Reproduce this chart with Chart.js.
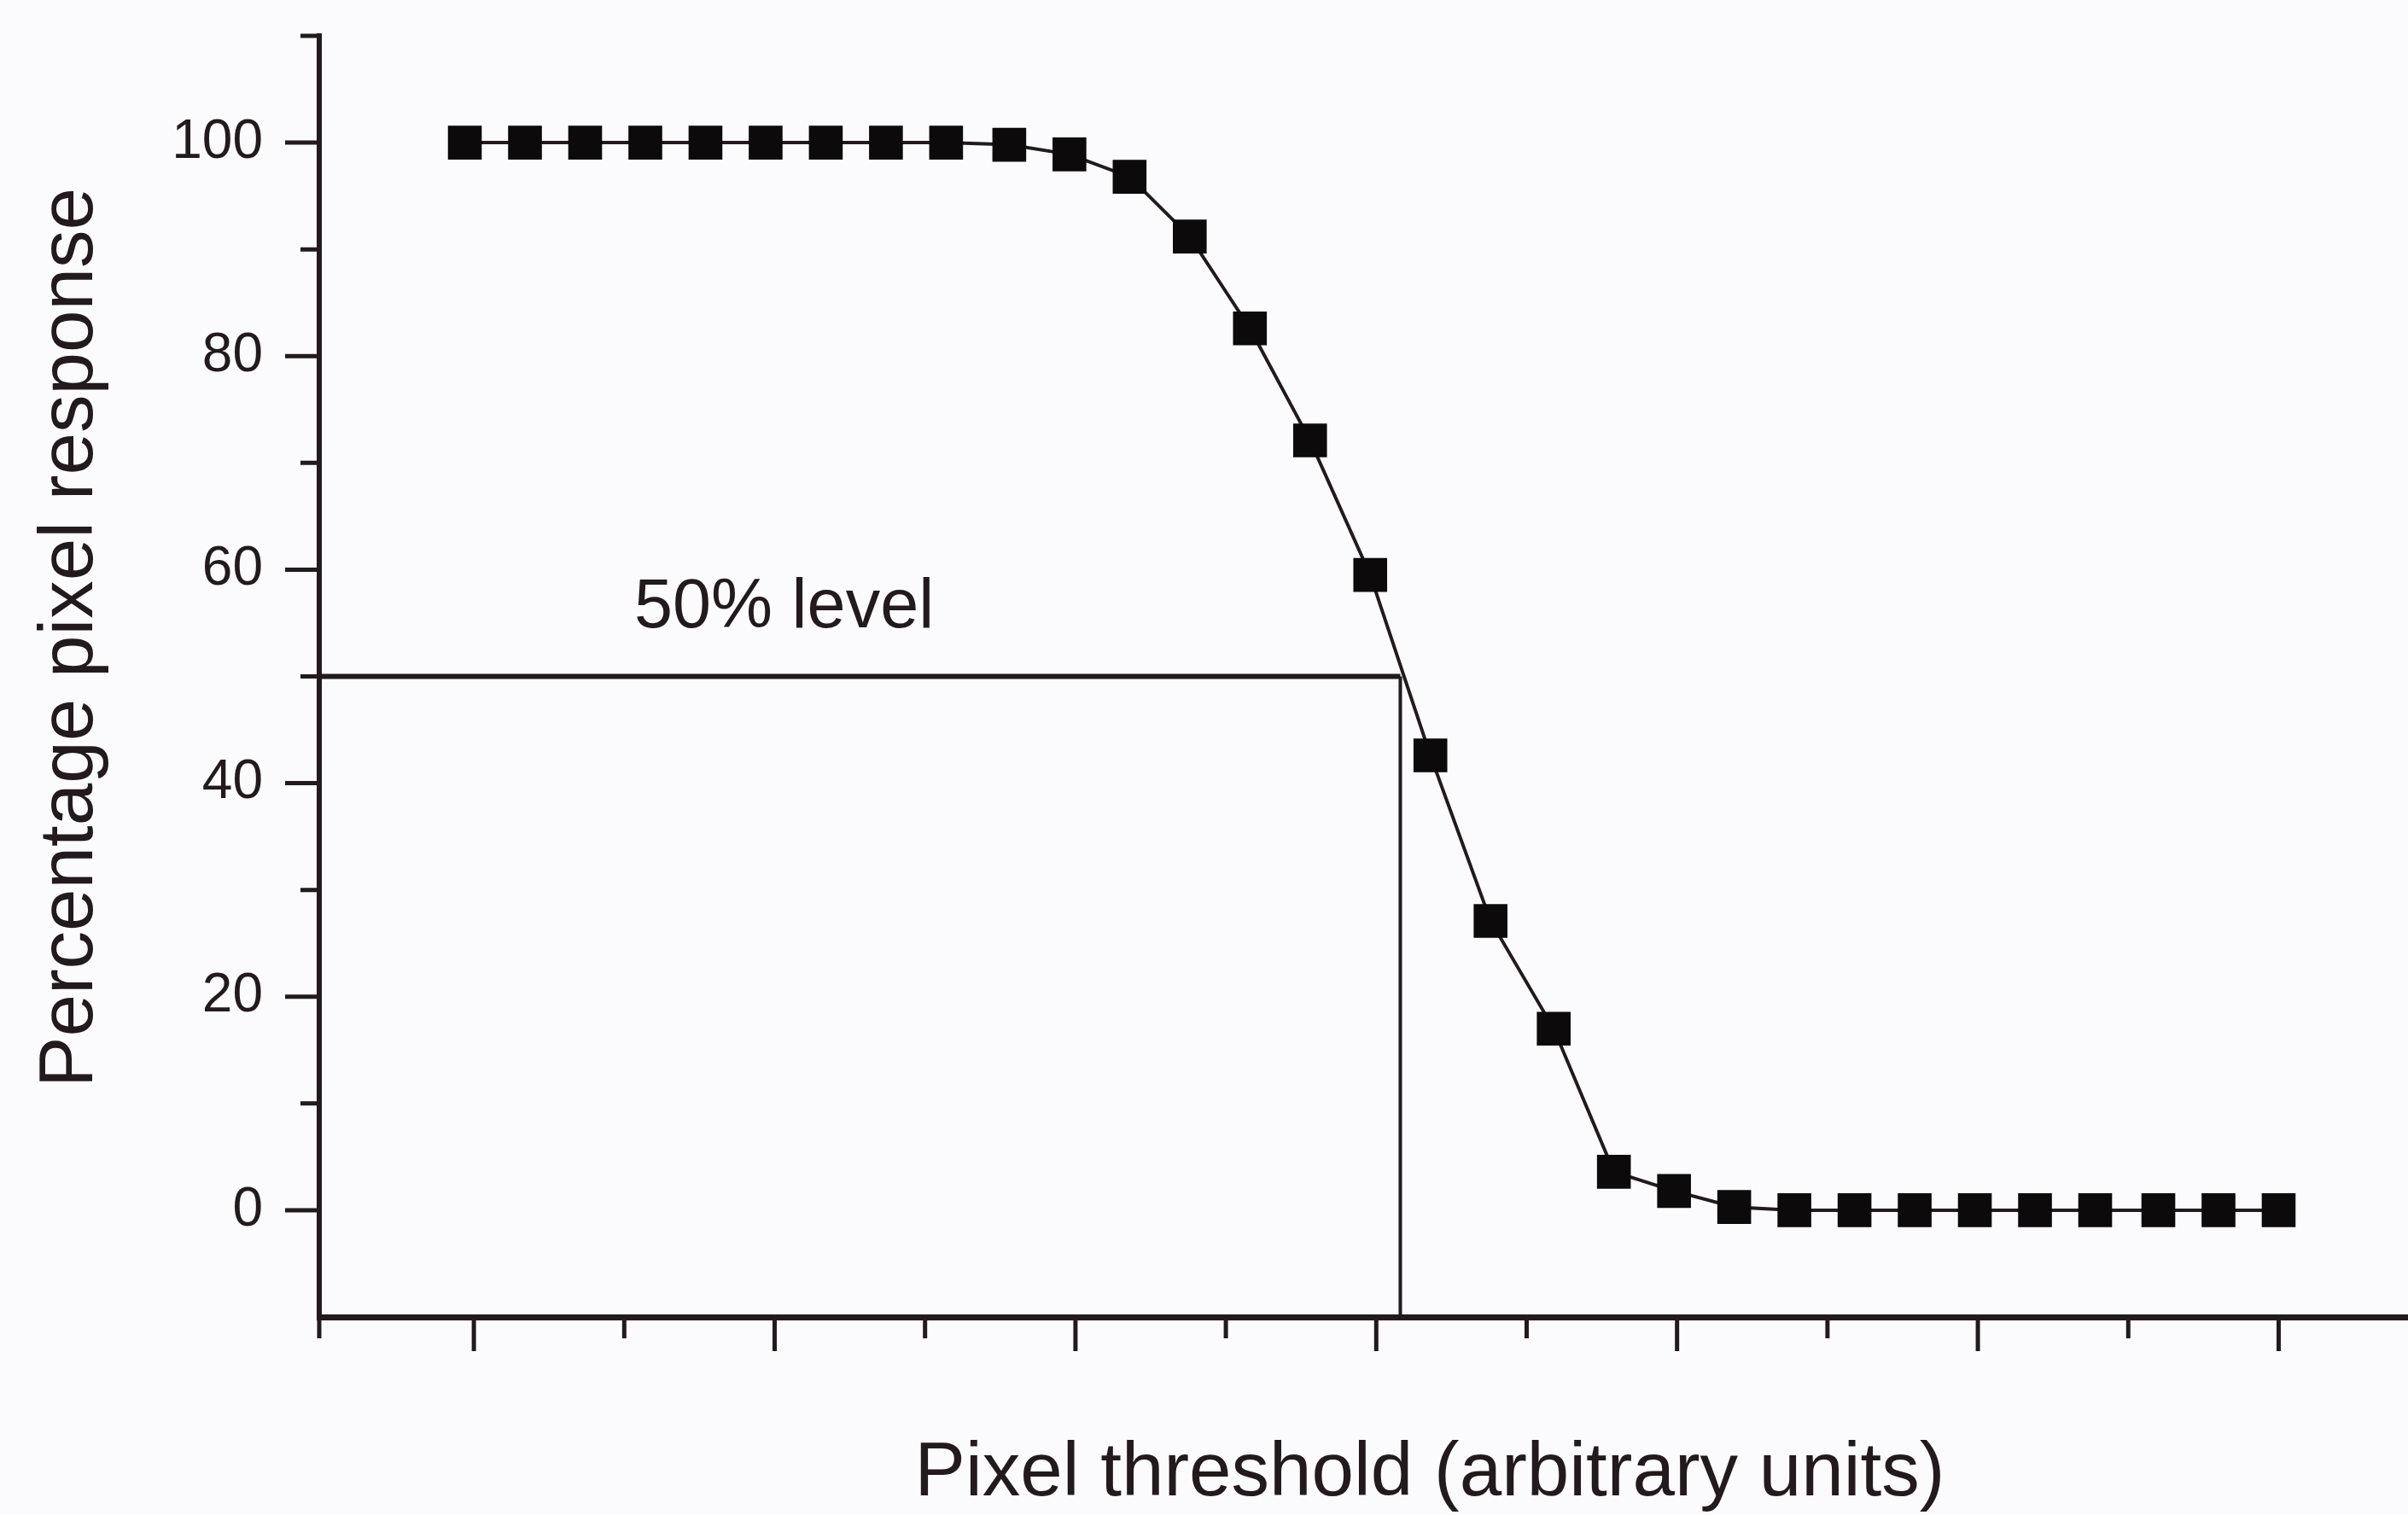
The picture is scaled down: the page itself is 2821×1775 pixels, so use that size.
<!DOCTYPE html>
<html>
<head>
<meta charset="utf-8">
<title>Pixel response vs threshold</title>
<script src="https://cdn.jsdelivr.net/npm/chart.js@4.4.1/dist/chart.umd.min.js"></script>
<style>
  html, body { margin: 0; padding: 0; background: #fbfbfd; }
  #wrap { width: 2821px; height: 1775px; }
</style>
</head>
<body>
<div id="wrap"><canvas id="c" width="2821" height="1775"></canvas></div>
<script>
// threshold (arbitrary units) and pixel response (%) for each setting
const thresholds = [-0.3, 1.7, 3.7, 5.7, 7.7, 9.7, 11.7, 13.7, 15.7, 17.8,
                    19.8, 21.8, 23.8, 25.8, 27.8, 29.8, 31.8, 33.8, 35.9, 37.9,
                    39.9, 41.9, 43.9, 45.9, 47.9, 49.9, 51.9, 53.9, 56.0, 58.0, 60.0];
const response   = [100, 100, 100, 100, 100, 100, 100, 100, 100, 99.8,
                    98.9, 96.8, 91.2, 82.6, 72.1, 59.5, 42.6, 27.1, 17.0, 3.6,
                    1.8, 0.3, 0, 0, 0, 0, 0, 0, 0, 0, 0];

// 50% marker: response level and the threshold where the curve crosses it
const HALF_LEVEL = 50;
const HALF_X = 30.8;

// axis ranges and tick marks
const X_MIN = -5.14, X_MAX = 64.3;
const Y_MIN = -10, Y_MAX = 110;
const yLabelValues = [0, 20, 40, 60, 80, 100];
const yTickMarks = [0, 10, 20, 30, 40, 50, 60, 70, 80, 90, 100, 110];
const xTickMarks = [X_MIN, 0, 5, 10, 15, 20, 25, 30, 35, 40, 45, 50, 55, 60];

const INK = '#221a1c';
const FONT = '"Liberation Sans", Arial, Helvetica, sans-serif';

// tick marks of two lengths plus axis titles and the level note
const decorations = {
  id: 'decorations',
  afterDraw(chart) {
    const { ctx, chartArea, scales: { x, y } } = chart;
    ctx.save();
    ctx.strokeStyle = INK;
    ctx.lineWidth = 5;
    ctx.beginPath();
    yTickMarks.forEach(v => {
      const py = y.getPixelForValue(v);
      const len = yLabelValues.includes(v) ? 40 : 22;
      ctx.moveTo(chartArea.left - len, py);
      ctx.lineTo(chartArea.left, py);
    });
    xTickMarks.forEach(v => {
      const px = x.getPixelForValue(v);
      const len = v % 10 === 0 ? 40 : 25;
      ctx.moveTo(px, chartArea.bottom);
      ctx.lineTo(px, chartArea.bottom + len);
    });
    ctx.stroke();

    ctx.fillStyle = INK;
    ctx.textAlign = 'center';
    ctx.textBaseline = 'middle';
    ctx.font = '89px ' + FONT;
    ctx.fillText('Pixel threshold (arbitrary units)', 1675, 1727);

    ctx.save();
    ctx.translate(83, 747);
    ctx.rotate(-Math.PI / 2);
    ctx.fillText('Percentage pixel response', 0, 0);
    ctx.restore();

    ctx.textAlign = 'left';
    ctx.textBaseline = 'alphabetic';
    ctx.font = '81px ' + FONT;
    ctx.fillText('50% level', 743, y.getPixelForValue(HALF_LEVEL) - 58);
    ctx.restore();
  }
};

const points = thresholds.map((t, i) => ({ x: t, y: response[i] }));

new Chart(document.getElementById('c'), {
  type: 'line',
  data: {
    datasets: [
      {
        data: points,
        borderColor: INK,
        borderWidth: 4,
        pointStyle: 'rect',
        pointRadius: 28,
        pointBackgroundColor: '#0c0a0b',
        pointBorderWidth: 0,
        tension: 0
      },
      {
        data: [{ x: X_MIN, y: HALF_LEVEL }, { x: HALF_X, y: HALF_LEVEL }],
        borderColor: INK,
        borderWidth: 6,
        pointRadius: 0
      },
      {
        data: [{ x: HALF_X, y: HALF_LEVEL }, { x: HALF_X, y: Y_MIN }],
        borderColor: INK,
        borderWidth: 4,
        pointRadius: 0
      }
    ]
  },
  options: {
    responsive: false,
    animation: false,
    devicePixelRatio: 1,
    layout: { autoPadding: false, padding: { top: 42, left: 0, right: 0, bottom: 0 } },
    plugins: { legend: { display: false }, tooltip: { enabled: false } },
    scales: {
      x: {
        type: 'linear',
        min: X_MIN,
        max: X_MAX,
        ticks: { display: false },
        grid: { display: false, drawTicks: false },
        border: { display: true, color: INK, width: 7 },
        afterFit(scale) {
          scale.height = 232;
          scale.paddingLeft = 0;
          scale.paddingRight = 0;
        }
      },
      y: {
        type: 'linear',
        min: Y_MIN,
        max: Y_MAX,
        afterBuildTicks(scale) {
          scale.ticks = yLabelValues.map(v => ({ value: v }));
        },
        ticks: {
          color: INK,
          padding: 66,
          font: { family: FONT, size: 64 }
        },
        grid: { display: false, drawTicks: false },
        border: { display: true, color: INK, width: 6 },
        afterFit(scale) {
          scale.width = 374;
          scale.paddingTop = 0;
          scale.paddingBottom = 0;
        }
      }
    }
  },
  plugins: [decorations]
});
</script>
</body>
</html>
